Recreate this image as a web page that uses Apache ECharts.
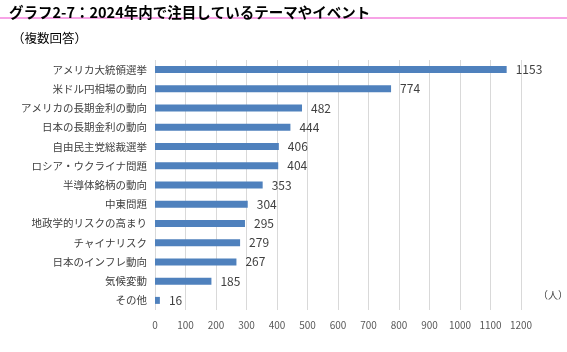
<!DOCTYPE html>
<html><head><meta charset="utf-8">
<script src="https://cdn.jsdelivr.net/npm/echarts@6/dist/echarts.min.js"></script>
<style>html,body{margin:0;padding:0;background:#fff}#c{width:567px;height:352px}</style>
</head><body><div id="c"></div>
<script>
const categories = ["アメリカ大統領選挙","米ドル円相場の動向","アメリカの長期金利の動向","日本の長期金利の動向","自由民主党総裁選挙","ロシア・ウクライナ問題","半導体銘柄の動向","中東問題","地政学的リスクの高まり","チャイナリスク","日本のインフレ動向","気候変動","その他"];
const values = [1153,774,482,444,406,404,353,304,295,279,267,185,16];
const xTicks = [0,100,200,300,400,500,600,700,800,900,1000,1100,1200];
const titleText = "グラフ2-7：2024年内で注目しているテーマやイベント";
const subText = "（複数回答）";
const unitText = "（人）";

const chart = echarts.init(document.getElementById('c'));
const font = '"Noto Sans CJK JP", sans-serif';
chart.setOption({
  animation:false,
  textStyle:{fontFamily:font},
  title:[
    {text:titleText,left:4,top:0,textStyle:{fontSize:14.5,fontWeight:'bold',color:'#000',fontFamily:font}},
    {text:subText,left:7,top:27,textStyle:{fontSize:12.5,fontWeight:'normal',color:'#000',fontFamily:font}}
  ],
  graphic:[
    {type:'line',shape:{x1:0,y1:18,x2:567,y2:18},style:{stroke:'#f7a3e6',lineWidth:2}},
    {type:'text',left:538,top:290,style:{text:unitText,fontSize:10,fill:'#404040',fontFamily:font}}
  ],
  grid:{left:155,right:46,top:60,bottom:42},
  xAxis:{type:'value',min:0,max:1200,interval:100,
    axisLine:{show:false},axisTick:{show:false},
    splitLine:{lineStyle:{color:'#d9d9d9'}},
    axisLabel:{color:'#595959',fontSize:10,margin:10,fontFamily:font,
      formatter:v=>xTicks.includes(v)?String(v):''}},
  yAxis:{type:'category',data:categories,inverse:true,
    axisLine:{show:false},axisTick:{show:false},
    axisLabel:{color:'#404040',fontSize:10.5,margin:8,fontFamily:font}},
  series:[{type:'bar',data:values,barWidth:7,
    itemStyle:{color:'#4f81bd'},
    label:{show:true,position:'right',distance:9,color:'#404040',fontSize:12,fontFamily:font}}]
});
</script></body></html>
